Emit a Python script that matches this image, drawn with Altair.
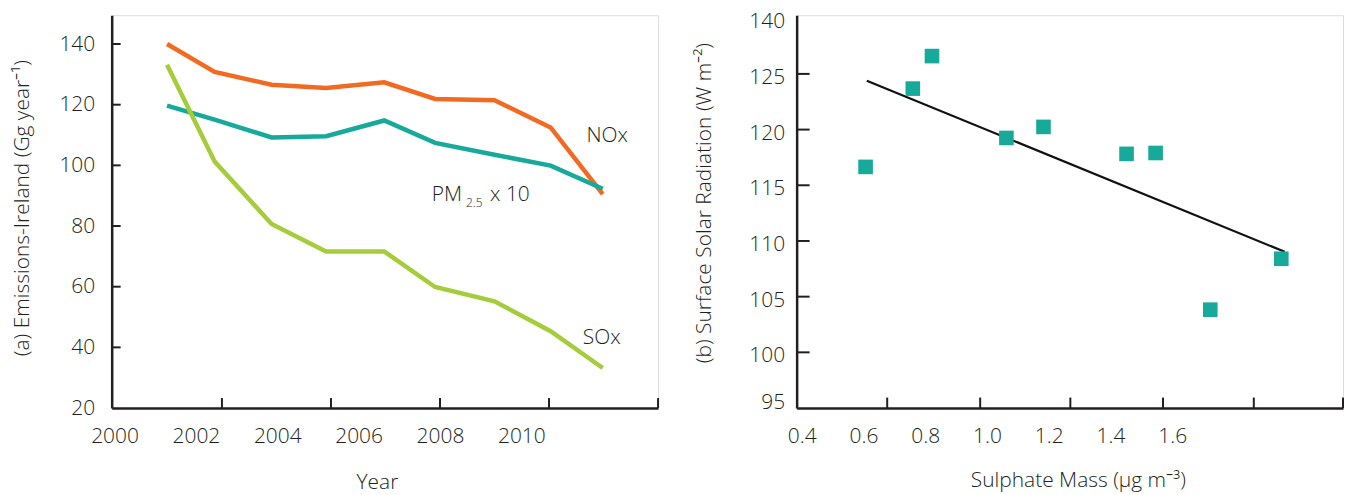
import altair as alt
import pandas as pd

# ---------------- data: panel (a) ----------------
years = [2001.29, 2002.46, 2003.86, 2005.20, 2006.63, 2007.88, 2009.34, 2010.72, 2012.00]
nox = [140.0, 130.8, 126.6, 125.5, 127.4, 121.9, 121.5, 112.5, 90.5]
pm25x10 = [119.7, 115.1, 109.2, 109.6, 114.8, 107.4, 103.5, 99.9, 92.3]
sox = [133.2, 101.3, 80.7, 71.6, 71.6, 59.9, 55.2, 45.3, 33.2]
series_names = ["NOx", "PM2.5 x 10", "SOx"]
series_colors = ["#f26a22", "#17a99a", "#a5cc3a"]

a_xlabels = [2000, 2002, 2004, 2006, 2008, 2010]
a_xticks = [2002.64, 2005.32, 2008.00, 2010.68, 2013.36]
a_yticks = [40, 60, 80, 100, 120, 140]
a_ylabels = [20, 40, 60, 80, 100, 120, 140]
a_xdomain = [1999.93, 2013.36]
a_ydomain = [20, 149.5]

ann_text = ["NOx", "SOx", "PM", "2.5", "x 10"]
ann_x = [2011.60, 2011.51, 2007.80, 2008.64, 2009.23]
ann_y = [107.8, 41.0, 88.4, 86.2, 88.4]
ann_size = [21, 21, 21, 12, 21]

# ---------------- data: panel (b) ----------------
sulphate = [0.607, 0.760, 0.822, 1.063, 1.183, 1.452, 1.546, 1.723, 1.953]
radiation = [116.65, 123.68, 126.6, 119.25, 120.24, 117.82, 117.9, 103.83, 108.4]
trend_x = [0.611, 1.964]
trend_y = [124.39, 109.03]
b_xlabels = [0.4, 0.6, 0.8, 1.0, 1.2, 1.4, 1.6]
b_xticks = [0.677, 0.978, 1.270, 1.570, 1.864, 2.1528]
b_yticks = [100, 105, 110, 115, 120, 125]
b_ylabels = [95, 100, 105, 110, 115, 120, 125, 130.27]
b_xdomain = [0.3838, 2.1528]
b_ydomain = [95, 130.27]

FONT = "Open Sans"
TXT = "#231f20"
AX = "#231f20"
W, H = 548, 394

def axis_common(**kw):
    base = dict(ticks=False, tickSize=0, grid=False, domainColor=AX, domainWidth=2.5,
                labelFont=FONT, labelFontSize=21, labelColor=TXT, labelFontWeight=300,
                titleFont=FONT, titleFontSize=21, titleColor=TXT, titleFontWeight=300,
                labelFlush=False, labelOverlap=False)
    base.update(kw)
    return alt.Axis(**base)

# ---------------- panel (a) ----------------
rows = []
for name, vals in zip(series_names, [nox, pm25x10, sox]):
    for yv, v in zip(years, vals):
        rows.append({"year": yv, "value": v, "series": name})
df_a = pd.DataFrame(rows)

xa = alt.X("year:Q", scale=alt.Scale(domain=a_xdomain, nice=False, zero=False),
           axis=axis_common(values=a_xlabels, format="d", title="Year", labelPadding=18,
                            titleX=266, titleY=81, titleBaseline="alphabetic"))
ya = alt.Y("value:Q", scale=alt.Scale(domain=a_ydomain, nice=False, zero=False),
           axis=axis_common(values=a_ylabels, title="(a) Emissions-Ireland (Gg year\u207b\u00b9)",
                            labelPadding=17, titleX=-83, titleY=193, titleAngle=270,
                            titleAlign="center", titleBaseline="alphabetic"))

lines_a = alt.Chart(df_a).mark_line(strokeWidth=4.5, strokeJoin="miter").encode(
    x=xa, y=ya,
    color=alt.Color("series:N", scale=alt.Scale(domain=series_names, range=series_colors), legend=None),
    detail="series:N",
)

tick_len_a_y = (a_ydomain[1] - a_ydomain[0]) * 10 / H
tick_len_a_x = (a_xdomain[1] - a_xdomain[0]) * 9 / W
df_axt = pd.DataFrame({"year": a_xticks, "value": [a_ydomain[0]] * len(a_xticks),
                       "value2": [a_ydomain[0] + tick_len_a_y] * len(a_xticks)})
df_ayt = pd.DataFrame({"value": a_yticks, "year": [a_xdomain[0]] * len(a_yticks),
                       "year2": [a_xdomain[0] + tick_len_a_x] * len(a_yticks)})
xticks_a = alt.Chart(df_axt).mark_rule(color=AX, strokeWidth=2).encode(
    x=xa, y=ya, y2="value2:Q")
yticks_a = alt.Chart(df_ayt).mark_rule(color=AX, strokeWidth=2).encode(
    y=ya, x=xa, x2="year2:Q")

df_ann = pd.DataFrame({"year": ann_x, "value": ann_y, "label": ann_text, "fs": ann_size})
ann_a = alt.Chart(df_ann).mark_text(align="left", baseline="alphabetic", font=FONT,
                                    fontWeight=300, color=TXT).encode(
    x=xa, y=ya, text="label:N", size=alt.Size("fs:Q", scale=None, legend=None))

left = alt.layer(lines_a, xticks_a, yticks_a, ann_a).properties(width=W, height=H)

# ---------------- panel (b) ----------------
df_b = pd.DataFrame({"sulphate": sulphate, "radiation": radiation})
df_trend = pd.DataFrame({"sulphate": trend_x, "radiation": trend_y})

xb = alt.X("sulphate:Q", scale=alt.Scale(domain=b_xdomain, nice=False, zero=False),
           axis=axis_common(values=b_xlabels, format=".1f",
                            title="Sulphate Mass (\u00b5g m\u207b\u00b3)", labelPadding=18,
                            titleX=282, titleY=79, titleBaseline="alphabetic"))
yb = alt.Y("radiation:Q", scale=alt.Scale(domain=b_ydomain, nice=False, zero=False),
           axis=axis_common(values=b_ylabels,
                            labelExpr="datum.value > 129 ? '140' : datum.label",
                            title="(b) Surface Solar Radiation (W m\u207b\u00b2)",
                            labelPadding=12,
                            labelOffset={"condition": [
                                {"test": "datum.value == 95", "value": -6},
                                {"test": "datum.value > 129", "value": 6}],
                                "value": 3.5},
                            titleX=-86, titleY=188,
                            titleAngle=270, titleAlign="center", titleBaseline="alphabetic"))

trend = alt.Chart(df_trend).mark_line(color="#111111", strokeWidth=2.2).encode(x=xb, y=yb)
pts = alt.Chart(df_b).mark_square(size=215, color="#17a99a", opacity=1).encode(x=xb, y=yb)

tick_len_b_y = (b_ydomain[1] - b_ydomain[0]) * 10.5 / H
tick_len_b_x = (b_xdomain[1] - b_xdomain[0]) * 13 / W
df_bxt = pd.DataFrame({"sulphate": b_xticks, "radiation": [b_ydomain[0]] * len(b_xticks),
                       "radiation2": [b_ydomain[0] + tick_len_b_y] * len(b_xticks)})
df_byt = pd.DataFrame({"radiation": b_yticks, "sulphate": [b_xdomain[0]] * len(b_yticks),
                       "sulphate2": [b_xdomain[0] + tick_len_b_x] * len(b_yticks)})
xticks_b = alt.Chart(df_bxt).mark_rule(color=AX, strokeWidth=2).encode(
    x=xb, y=yb, y2="radiation2:Q")
yticks_b = alt.Chart(df_byt).mark_rule(color=AX, strokeWidth=2).encode(
    y=yb, x=xb, x2="sulphate2:Q")

right = alt.layer(trend, pts, xticks_b, yticks_b).properties(width=W, height=H)

chart = alt.hconcat(left, right, spacing=139, bounds="flush").properties(
    padding={"left": 3, "top": 0.5, "right": 0, "bottom": 0}
).configure_view(stroke=None).configure(background="white")

chart.save("out.html", embed_options={"renderer": "svg", "actions": False})
